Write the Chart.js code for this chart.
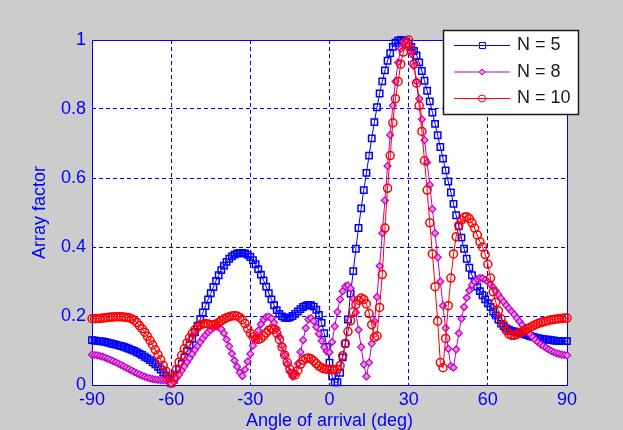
<!DOCTYPE html>
<html>
<head>
<meta charset="utf-8">
<script src="https://cdn.jsdelivr.net/npm/chart.js@4.4.1/dist/chart.umd.min.js"></script>
<style>
  html, body { margin:0; padding:0; background:#cccccc; }
  #wrap { width:623px; height:430px; position:relative; }
</style>
</head>
<body>
<div id="wrap"><canvas id="af"></canvas></div>
<script>
// angle of arrival, 1 deg steps from -90 to 90
const angles = Array.from({length: 181}, (_, i) => i - 90);

// array factor (rows of 10 degrees)
const n5 = [
  0.130, 0.129, 0.128, 0.127, 0.126, 0.125, 0.123, 0.121, 0.119, 0.117,
  0.115, 0.113, 0.111, 0.108, 0.105, 0.102, 0.099, 0.095, 0.091, 0.087,
  0.082, 0.077, 0.072, 0.066, 0.060, 0.053, 0.045, 0.037, 0.028, 0.018,
  0.005, 0.015, 0.030, 0.046, 0.062, 0.080, 0.098, 0.116, 0.134, 0.153,
  0.172, 0.191, 0.210, 0.229, 0.248, 0.266, 0.284, 0.302, 0.318, 0.333,
  0.346, 0.357, 0.366, 0.373, 0.378, 0.381, 0.383, 0.383, 0.381, 0.377,
  0.371, 0.362, 0.350, 0.336, 0.320, 0.303, 0.285, 0.266, 0.248, 0.231,
  0.217, 0.206, 0.199, 0.195, 0.194, 0.196, 0.200, 0.206, 0.213, 0.220,
  0.226, 0.230, 0.232, 0.231, 0.227, 0.218, 0.203, 0.180, 0.150, 0.110,
  0.065, 0.025, 0.008, 0.008, 0.035, 0.080, 0.120, 0.190, 0.265, 0.330,
  0.395, 0.455, 0.512, 0.565, 0.615, 0.665, 0.715, 0.762, 0.805, 0.845,
  0.880, 0.912, 0.940, 0.962, 0.980, 0.992, 0.998, 1.000, 0.999, 0.995,
  0.989, 0.980, 0.968, 0.955, 0.935, 0.910, 0.882, 0.853, 0.822, 0.790,
  0.757, 0.724, 0.690, 0.656, 0.622, 0.590, 0.558, 0.525, 0.492, 0.460,
  0.427, 0.395, 0.366, 0.340, 0.318, 0.300, 0.285, 0.272, 0.260, 0.248,
  0.237, 0.226, 0.213, 0.202, 0.190, 0.178, 0.170, 0.164, 0.160, 0.157,
  0.155, 0.153, 0.151, 0.149, 0.147, 0.145, 0.142, 0.140, 0.138, 0.136,
  0.134, 0.133, 0.132, 0.131, 0.130, 0.129, 0.128, 0.128, 0.127, 0.127,
  0.127
];
const n8 = [
  0.088, 0.087, 0.086, 0.084, 0.082, 0.079, 0.076, 0.073, 0.069, 0.066,
  0.062, 0.058, 0.054, 0.050, 0.046, 0.042, 0.038, 0.034, 0.030, 0.027,
  0.024, 0.021, 0.019, 0.017, 0.016, 0.015, 0.014, 0.014, 0.013, 0.011,
  0.004, 0.010, 0.020, 0.030, 0.042, 0.054, 0.066, 0.078, 0.090, 0.102,
  0.113, 0.124, 0.135, 0.145, 0.153, 0.160, 0.166, 0.170, 0.167, 0.162,
  0.150, 0.132, 0.112, 0.091, 0.071, 0.053, 0.036, 0.026, 0.045, 0.068,
  0.090, 0.114, 0.137, 0.158, 0.176, 0.189, 0.197, 0.198, 0.193, 0.181,
  0.163, 0.140, 0.114, 0.087, 0.061, 0.038, 0.024, 0.032, 0.062, 0.096,
  0.130, 0.165, 0.190, 0.194, 0.185, 0.168, 0.148, 0.128, 0.110, 0.097,
  0.095, 0.125, 0.170, 0.212, 0.248, 0.272, 0.286, 0.289, 0.280, 0.250,
  0.210, 0.160, 0.110, 0.060, 0.025, 0.065, 0.120, 0.185, 0.255, 0.345,
  0.440, 0.535, 0.635, 0.725, 0.810, 0.880, 0.935, 0.975, 0.995, 0.997,
  0.985, 0.960, 0.925, 0.880, 0.830, 0.770, 0.710, 0.645, 0.580, 0.510,
  0.440, 0.370, 0.300, 0.230, 0.165, 0.105, 0.055, 0.050, 0.103, 0.150,
  0.192, 0.226, 0.253, 0.274, 0.290, 0.300, 0.307, 0.310, 0.309, 0.305,
  0.300, 0.292, 0.283, 0.273, 0.262, 0.251, 0.241, 0.231, 0.222, 0.213,
  0.204, 0.194, 0.184, 0.174, 0.164, 0.155, 0.147, 0.139, 0.131, 0.124,
  0.118, 0.113, 0.108, 0.103, 0.099, 0.095, 0.092, 0.090, 0.088, 0.087,
  0.086
];
const n10 = [
  0.192, 0.192, 0.193, 0.193, 0.194, 0.195, 0.196, 0.197, 0.197, 0.198,
  0.198, 0.198, 0.197, 0.196, 0.195, 0.192, 0.188, 0.181, 0.172, 0.163,
  0.153, 0.141, 0.129, 0.116, 0.102, 0.088, 0.073, 0.057, 0.040, 0.022,
  0.006, 0.022, 0.045, 0.066, 0.086, 0.105, 0.122, 0.137, 0.150, 0.160,
  0.168, 0.174, 0.177, 0.178, 0.177, 0.175, 0.175, 0.177, 0.181, 0.186,
  0.191, 0.195, 0.198, 0.200, 0.201, 0.200, 0.196, 0.189, 0.178, 0.163,
  0.150, 0.140, 0.134, 0.132, 0.135, 0.142, 0.151, 0.159, 0.163, 0.161,
  0.150, 0.132, 0.110, 0.087, 0.065, 0.046, 0.033, 0.029, 0.042, 0.060,
  0.071, 0.077, 0.078, 0.076, 0.070, 0.062, 0.055, 0.050, 0.047, 0.046,
  0.045, 0.044, 0.044, 0.046, 0.056, 0.085, 0.120, 0.155, 0.186, 0.212,
  0.233, 0.246, 0.252, 0.248, 0.235, 0.207, 0.175, 0.138, 0.142, 0.225,
  0.320, 0.455, 0.570, 0.665, 0.760, 0.830, 0.880, 0.930, 0.965, 0.990,
  1.000, 0.970, 0.930, 0.875, 0.810, 0.735, 0.650, 0.565, 0.470, 0.380,
  0.285, 0.185, 0.065, 0.050, 0.135, 0.230, 0.310, 0.380, 0.430, 0.462,
  0.478, 0.486, 0.488, 0.482, 0.470, 0.455, 0.435, 0.415, 0.400, 0.378,
  0.350, 0.310, 0.270, 0.240, 0.215, 0.192, 0.175, 0.158, 0.148, 0.144,
  0.144, 0.147, 0.151, 0.155, 0.159, 0.163, 0.167, 0.171, 0.175, 0.178,
  0.181, 0.183, 0.185, 0.187, 0.189, 0.190, 0.191, 0.192, 0.193, 0.194,
  0.194
];

const seriesNames = ['N = 5', 'N = 8', 'N = 10'];
const xTicks = [-90, -60, -30, 0, 30, 60, 90];
const yTicks = [0, 0.2, 0.4, 0.6, 0.8, 1];

const BLUE = '#0000ff';
const FONT = '"Liberation Sans", Arial, sans-serif';

const pts = arr => angles.map((a, i) => ({x: a, y: arr[i]}));

// white plot box, blue frame, axis titles and the matlab-like legend
const matlabBits = {
  id: 'matlabBits',
  beforeDraw(chart) {
    const {ctx, chartArea: a} = chart;
    ctx.save();
    ctx.fillStyle = '#ffffff';
    ctx.fillRect(a.left, a.top, a.right - a.left, a.bottom - a.top);
    ctx.restore();
  },
  beforeDatasetsDraw(chart) {
    const {ctx, chartArea: a} = chart;
    ctx.save();
    ctx.strokeStyle = BLUE;
    ctx.lineWidth = 1;
    ctx.strokeRect(Math.round(a.left) + 0.5, Math.round(a.top) + 0.5,
      Math.round(a.right - a.left), Math.round(a.bottom - a.top));
    ctx.restore();
  },
  afterDraw(chart) {
    const {ctx, chartArea: a} = chart;
    ctx.save();
    ctx.fillStyle = BLUE;
    ctx.font = '18px ' + FONT;
    ctx.textAlign = 'center';
    ctx.textBaseline = 'top';
    ctx.fillText('Angle of arrival (deg)', (a.left + a.right) / 2, 412);
    ctx.translate(40, (a.top + a.bottom) / 2);
    ctx.rotate(-Math.PI / 2);
    ctx.textBaseline = 'middle';
    ctx.fillText('Array factor', 0, 0);
    ctx.restore();

    // legend
    const box = {x: 443.5, y: 30.5, w: 135, h: 84};
    ctx.save();
    ctx.fillStyle = '#ffffff';
    ctx.fillRect(box.x, box.y, box.w, box.h);
    ctx.strokeStyle = '#1a1a1a';
    ctx.lineWidth = 1.5;
    ctx.strokeRect(box.x, box.y, box.w, box.h);
    ctx.font = '18px ' + FONT;
    ctx.textAlign = 'left';
    ctx.textBaseline = 'middle';
    chart.data.datasets.forEach((ds, i) => {
      const y = 45.5 + i * 26.5;
      ctx.strokeStyle = ds.borderColor;
      ctx.lineWidth = 1;
      ctx.beginPath();
      ctx.moveTo(454, y);
      ctx.lineTo(510, y);
      ctx.stroke();
      ctx.fillStyle = ds.pointBackgroundColor;
      ctx.beginPath();
      if (ds.pointStyle === 'rect') {
        ctx.rect(479.5, y - 3, 6, 6);
      } else if (ds.pointStyle === 'rectRot') {
        ctx.moveTo(482, y - 3); ctx.lineTo(485, y); ctx.lineTo(482, y + 3); ctx.lineTo(479, y); ctx.closePath();
      } else {
        ctx.arc(482, y, 3.5, 0, Math.PI * 2);
      }
      ctx.fill();
      ctx.stroke();
      ctx.fillStyle = '#1a1a1a';
      ctx.fillText(ds.label, 517, y);
    });
    ctx.restore();
  }
};

new Chart(document.getElementById('af'), {
  type: 'line',
  data: {
    datasets: [
      {
        label: seriesNames[0],
        data: pts(n5),
        borderColor: BLUE,
        borderWidth: 1,
        pointStyle: 'rect',
        pointRadius: 4.5,
        pointBorderWidth: 1.5,
        pointBorderColor: BLUE,
        pointBackgroundColor: 'rgba(255,255,255,0)',
        order: 3,
        clip: false
      },
      {
        label: seriesNames[1],
        data: pts(n8),
        borderColor: '#c000c0',
        borderWidth: 1,
        pointStyle: 'rectRot',
        pointRadius: 3.5,
        pointBorderWidth: 1.2,
        pointBorderColor: '#c000c0',
        pointBackgroundColor: '#e68ae6',
        order: 2,
        clip: false
      },
      {
        label: seriesNames[2],
        data: pts(n10),
        borderColor: '#ff0000',
        borderWidth: 1,
        pointStyle: 'circle',
        pointRadius: 4,
        pointBorderWidth: 1.5,
        pointBorderColor: '#ff0000',
        pointBackgroundColor: 'rgba(255,255,255,0)',
        order: 1,
        clip: false
      }
    ]
  },
  options: {
    responsive: true,
    maintainAspectRatio: false,
    animation: false,
    layout: { padding: { top: 40, right: 56, bottom: 0, left: 0 } },
    plugins: {
      legend: { display: false },
      tooltip: { enabled: false }
    },
    scales: {
      x: {
        type: 'linear',
        min: -90,
        max: 90,
        afterFit: s => { s.height = 45; },
        afterBuildTicks: s => { s.ticks = xTicks.map(v => ({value: v})); },
        grid: { color: BLUE, lineWidth: 1, drawTicks: false },
        border: { display: false, dash: [4, 3] },
        ticks: { color: BLUE, padding: 4, font: { size: 18, family: FONT }, maxRotation: 0,
                 callback: v => String(v) }
      },
      y: {
        min: 0,
        max: 1,
        afterFit: s => { s.width = 92; },
        afterBuildTicks: s => { s.ticks = yTicks.map(v => ({value: v})); },
        grid: { color: BLUE, lineWidth: 1, drawTicks: false },
        border: { display: false, dash: [4, 3] },
        ticks: { color: BLUE, padding: 6, font: { size: 18, family: FONT },
                 callback: v => String(Math.round(v * 10) / 10) }
      }
    }
  },
  plugins: [matlabBits]
});
</script>
</body>
</html>
